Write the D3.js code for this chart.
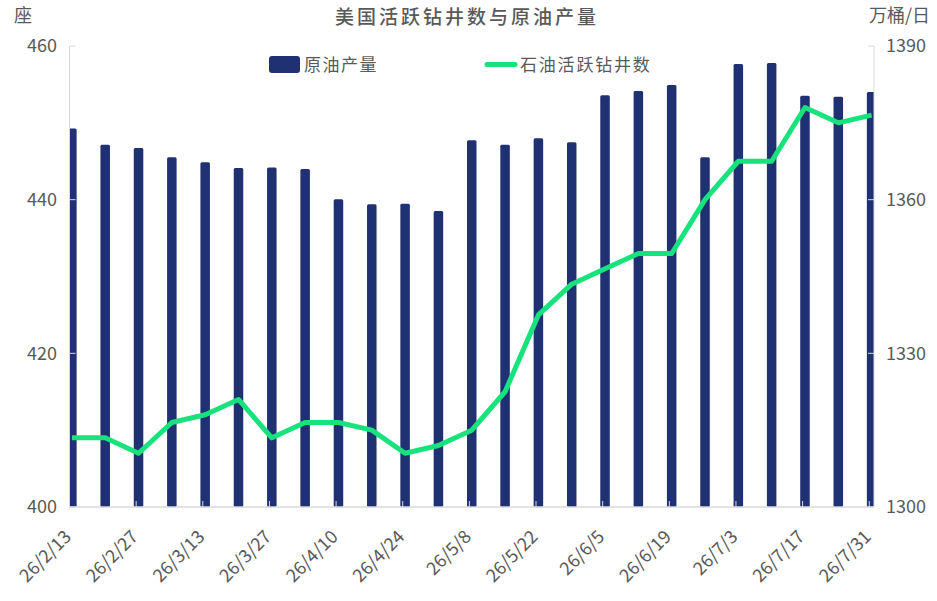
<!DOCTYPE html>
<html>
<head>
<meta charset="utf-8">
<script src="https://cdn.jsdelivr.net/npm/d3@7"></script>
<style>
body{margin:0;background:#fff;}
text{font-family:"Noto Sans CJK SC","Noto Sans",sans-serif;fill:#595959;}
</style>
</head>
<body>
<svg id="c" width="937" height="601"></svg>
<script>
const dates = ["2026-02-13","2026-02-20","2026-02-27","2026-03-06","2026-03-13","2026-03-20","2026-03-27","2026-04-03","2026-04-10","2026-04-17","2026-04-24","2026-05-01","2026-05-08","2026-05-15","2026-05-22","2026-05-29","2026-06-05","2026-06-12","2026-06-19","2026-06-26","2026-07-03","2026-07-10","2026-07-17","2026-07-24","2026-07-31"];
const production = [1373.9,1370.7,1370.1,1368.3,1367.3,1366.2,1366.3,1366.0,1360.1,1359.1,1359.2,1357.8,1371.6,1370.7,1372.0,1371.2,1380.4,1381.2,1382.4,1368.3,1386.5,1386.7,1380.3,1380.1,1381.0];
const rigs = [409,409,407,411,412,414,409,411,411,410,407,408,410,415,425,429,431,433,433,440,445,445,452,450,451];
const leftTicks = [400,420,440,460];
const rightTicks = [1300,1330,1360,1390];
const xTickLabels = ["26/2/13","26/2/27","26/3/13","26/3/27","26/4/10","26/4/24","26/5/8","26/5/22","26/6/5","26/6/19","26/7/3","26/7/17","26/7/31"];
const title = "美国活跃钻井数与原油产量";
const seriesNames = ["原油产量","石油活跃钻井数"];

const svg = d3.select("#c");
const L = 69.5, R = 874, T = 46, B = 507;
const parse = d3.utcParse("%Y-%m-%d");
const D = dates.map(parse);
const DAY = 864e5;
const x = d3.scaleUtc().domain([D[0], new Date(+D[D.length-1] + DAY)]).range([L, R]);
const yL = d3.scaleLinear().domain([400,460]).range([B,T]);
const yR = d3.scaleLinear().domain([1300,1390]).range([B,T]);
const mid = d => new Date(+d + DAY/2);
const barW = x(new Date(+D[0] + 2*DAY)) - x(D[0]);

svg.append("clipPath").attr("id","clip").append("rect")
  .attr("x",L).attr("y",0).attr("width",R-L).attr("height",B);

const plot = svg.append("g").attr("clip-path","url(#clip)");
plot.selectAll("rect.bar").data(production).join("rect")
  .attr("class","bar")
  .attr("x",(v,i)=>x(mid(D[i]))-barW/2)
  .attr("width",barW)
  .attr("y",v=>yR(v))
  .attr("height",v=>B-yR(v))
  .attr("rx",1.5)
  .attr("fill","#1f3172");

const line = d3.line().x((v,i)=>x(mid(D[i]))).y(v=>yL(v));
plot.append("path").datum(rigs)
  .attr("d",line)
  .attr("fill","none")
  .attr("stroke","#17e27c")
  .attr("stroke-width",5)
  .attr("stroke-linejoin","round");

// axes lines
const axCol = "#d9d9d9";
svg.append("line").attr("x1",L).attr("x2",L).attr("y1",T).attr("y2",B).attr("stroke",axCol);
svg.append("line").attr("x1",R).attr("x2",R).attr("y1",T).attr("y2",B).attr("stroke",axCol);
svg.append("line").attr("x1",L).attr("x2",R).attr("y1",B).attr("y2",B).attr("stroke",axCol).attr("stroke-width",1.5);

// left ticks
const gl = svg.append("g");
leftTicks.forEach(t=>{
  gl.append("line").attr("x1",L).attr("x2",L+6).attr("y1",yL(t)).attr("y2",yL(t)).attr("stroke",axCol);
  gl.append("text").attr("x",57).attr("y",yL(t)).attr("dy","0.36em").attr("text-anchor","end")
    .style("font-size","18px").text(t);
});
const gr = svg.append("g");
rightTicks.forEach(t=>{
  gr.append("line").attr("x1",R-6).attr("x2",R).attr("y1",yR(t)).attr("y2",yR(t)).attr("stroke",axCol);
  gr.append("text").attr("x",886).attr("y",yR(t)).attr("dy","0.36em").attr("text-anchor","start")
    .style("font-size","18px").text(t);
});

// x ticks
const tickDates = xTickLabels.map((s,i)=>new Date(+D[0] + i*14*DAY));
const gx = svg.append("g");
tickDates.forEach((d,i)=>{
  const px = x(d);
  gx.append("line").attr("x1",px).attr("x2",px).attr("y1",B).attr("y2",B-6).attr("stroke",axCol);
  gx.append("text").attr("transform",`translate(${px-6},${B+22}) rotate(-45)`)
    .attr("text-anchor","end").attr("dy","0.7em")
    .style("font-size","18px").text(xTickLabels[i]);
});

// titles
svg.append("text").attr("x",467).attr("y",17).attr("dy","0.36em").attr("text-anchor","middle")
  .style("font-size","19px").style("letter-spacing","3px").style("font-weight","500").text(title);
svg.append("text").attr("x",14).attr("y",16).attr("dy","0.36em").style("font-size","18px").text("座");
svg.append("text").attr("x",869).attr("y",16).attr("dy","0.36em").style("font-size","18px").text("万桶/日");

// legend
svg.append("rect").attr("x",269).attr("y",56).attr("width",31).attr("height",17).attr("rx",3).attr("fill","#1f3172");
svg.append("text").attr("x",304).attr("y",64.5).attr("dy","0.36em").style("font-size","17px").style("letter-spacing","1.5px").text(seriesNames[0]);
svg.append("line").attr("x1",487).attr("x2",515).attr("y1",64.5).attr("y2",64.5).attr("stroke","#17e27c").attr("stroke-width",5).attr("stroke-linecap","round");
svg.append("text").attr("x",520).attr("y",64.5).attr("dy","0.36em").style("font-size","17px").style("letter-spacing","1.8px").text(seriesNames[1]);
</script>
</body>
</html>
